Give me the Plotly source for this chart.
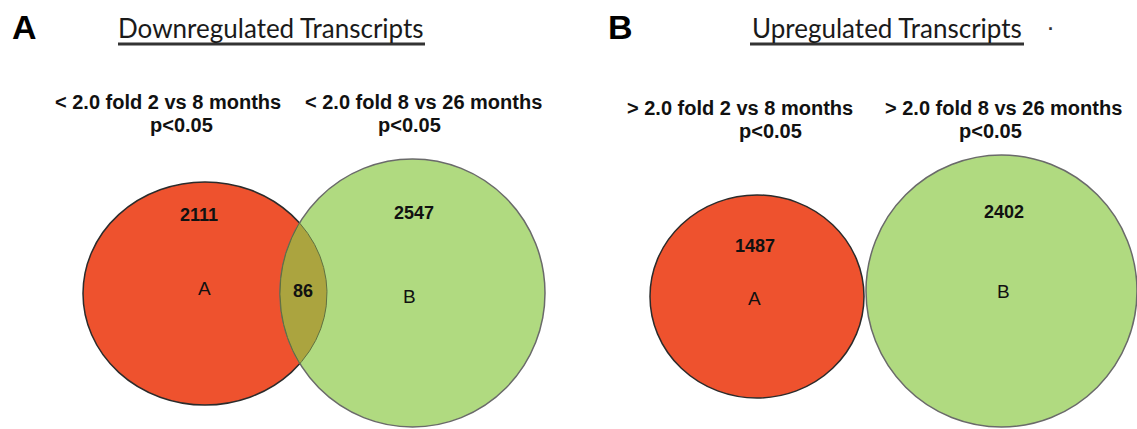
import numpy as np
import plotly.graph_objects as go

# ---------------- data ----------------
panel_letters = ["A", "B"]
panel_titles = ["Downregulated Transcripts", "Upregulated Transcripts"]
set_a_labels = ["< 2.0 fold 2 vs 8 months", "> 2.0 fold 2 vs 8 months"]
set_b_labels = ["< 2.0 fold 8 vs 26 months", "> 2.0 fold 8 vs 26 months"]
p_label = "p<0.05"
only_a_counts = [2111, 1487]
only_b_counts = [2547, 2402]
shared_counts = [86, None]

# ---------------- layout geometry (pixel frame) ----------------
W, H = 1137, 429
# ellipses: (x0, y0, x1, y1)
set_a_box = [(83, 182, 327, 405), (650, 195, 864, 398)]
set_b_box = [(280, 159, 545, 427), (866, 155, 1137, 427)]
letter_pos = [(24, 27), (620, 27)]
title_pos = [(271, 28), (887, 28)]
underline_span = [(118, 425, 44), (750, 1024, 44)]
sub_a_pos = [((168, 102), (181, 125)), ((740, 108), (770, 131))]
sub_b_pos = [((423, 102), (409, 125)), ((1003, 108), (990, 131))]
count_a_pos = [(199, 215), (755, 246)]
count_b_pos = [(414, 213), (1004, 212)]
letter_a_pos = [(204, 288), (754, 298)]
letter_b_pos = [(409, 296), (1003, 291)]
shared_pos = [(303, 291), None]

RED = "#EE522E"
GREEN = "#B0DA80"
OVERLAP = "#ABA43F"
ARIAL = "Liberation Sans, Arial, sans-serif"

fig = go.Figure()
shapes = []
ann = []


def ell_params(box):
    x0, y0, x1, y1 = box
    return (x0 + x1) / 2, (y0 + y1) / 2, (x1 - x0) / 2, (y1 - y0) / 2


for i in range(2):
    shapes.append(dict(type="circle", xref="x", yref="y", layer="below",
                       x0=set_a_box[i][0], y0=set_a_box[i][1], x1=set_a_box[i][2], y1=set_a_box[i][3],
                       fillcolor=RED, line=dict(color="#2b2b2b", width=1.5)))
    shapes.append(dict(type="circle", xref="x", yref="y", layer="below",
                       x0=set_b_box[i][0], y0=set_b_box[i][1], x1=set_b_box[i][2], y1=set_b_box[i][3],
                       fillcolor=GREEN, line=dict(color="#6a6a6a", width=1.5)))

    # overlap lens (only if the sets share members)
    if shared_counts[i]:
        cxa, cya, rxa, rya = ell_params(set_a_box[i])
        cxb, cyb, rxb, ryb = ell_params(set_b_box[i])
        t = np.linspace(0, 2 * np.pi, 2000)
        ax, ay = cxa + rxa * np.cos(t), cya + rya * np.sin(t)
        bx, by = cxb + rxb * np.cos(t), cyb + ryb * np.sin(t)
        in_b = ((ax - cxb) / rxb) ** 2 + ((ay - cyb) / ryb) ** 2 <= 1
        in_a = ((bx - cxa) / rxa) ** 2 + ((by - cya) / rya) ** 2 <= 1
        px = np.concatenate([ax[in_b], bx[in_a]])
        py = np.concatenate([ay[in_b], by[in_a]])
        mx, my = px.mean(), py.mean()
        order = np.argsort(np.arctan2(py - my, px - mx))
        px, py = px[order], py[order]
        fig.add_trace(go.Scatter(x=np.append(px, px[0]), y=np.append(py, py[0]),
                                 mode="lines", fill="toself", fillcolor=OVERLAP,
                                 line=dict(color="#5f7040", width=1), hoverinfo="skip",
                                 showlegend=False))

    # underline of title
    x0u, x1u, yu = underline_span[i]
    shapes.append(dict(type="line", xref="x", yref="y", x0=x0u, x1=x1u, y0=yu, y1=yu,
                       line=dict(color="#333333", width=3)))

    ann.append(dict(x=letter_pos[i][0], y=letter_pos[i][1], text="<b>%s</b>" % panel_letters[i],
                    font=dict(family=ARIAL, size=34, color="black")))
    ann.append(dict(x=title_pos[i][0], y=title_pos[i][1], text=panel_titles[i],
                    font=dict(family="Lato, sans-serif", size=26, color="#1a1a1a")))
    ann.append(dict(x=sub_a_pos[i][0][0], y=sub_a_pos[i][0][1], text="<b>%s</b>" % set_a_labels[i],
                    font=dict(family=ARIAL, size=20, color="#111111")))
    ann.append(dict(x=sub_a_pos[i][1][0], y=sub_a_pos[i][1][1], text="<b>%s</b>" % p_label,
                    font=dict(family=ARIAL, size=20, color="#111111")))
    ann.append(dict(x=sub_b_pos[i][0][0], y=sub_b_pos[i][0][1], text="<b>%s</b>" % set_b_labels[i],
                    font=dict(family=ARIAL, size=20, color="#111111")))
    ann.append(dict(x=sub_b_pos[i][1][0], y=sub_b_pos[i][1][1], text="<b>%s</b>" % p_label,
                    font=dict(family=ARIAL, size=20, color="#111111")))
    ann.append(dict(x=count_a_pos[i][0], y=count_a_pos[i][1], text="<b>%d</b>" % only_a_counts[i],
                    font=dict(family=ARIAL, size=18, color="#111111")))
    ann.append(dict(x=count_b_pos[i][0], y=count_b_pos[i][1], text="<b>%d</b>" % only_b_counts[i],
                    font=dict(family=ARIAL, size=18, color="#111111")))
    ann.append(dict(x=letter_a_pos[i][0], y=letter_a_pos[i][1], text="A",
                    font=dict(family=ARIAL, size=19, color="#111111")))
    ann.append(dict(x=letter_b_pos[i][0], y=letter_b_pos[i][1], text="B",
                    font=dict(family=ARIAL, size=19, color="#111111")))
    if shared_counts[i]:
        ann.append(dict(x=shared_pos[i][0], y=shared_pos[i][1], text="<b>%d</b>" % shared_counts[i],
                        font=dict(family=ARIAL, size=18, color="#111111")))

# small stray dot next to the second title
ann.append(dict(x=1051, y=29, text="<b>·</b>", font=dict(family=ARIAL, size=18, color="#333333")))

for a in ann:
    a.update(xref="x", yref="y", showarrow=False, xanchor="center", yanchor="middle")

fig.update_layout(
    width=W, height=H,
    margin=dict(l=0, r=0, t=0, b=0),
    paper_bgcolor="white", plot_bgcolor="white",
    xaxis=dict(range=[0, W], visible=False, fixedrange=True),
    yaxis=dict(range=[H, 0], visible=False, fixedrange=True),
    shapes=shapes, annotations=ann, showlegend=False,
)

fig.write_html("out.html",
               config={"displayModeBar": False, "staticPlot": True},
               post_script="document.body.style.margin='0';document.body.style.overflow='hidden';")
